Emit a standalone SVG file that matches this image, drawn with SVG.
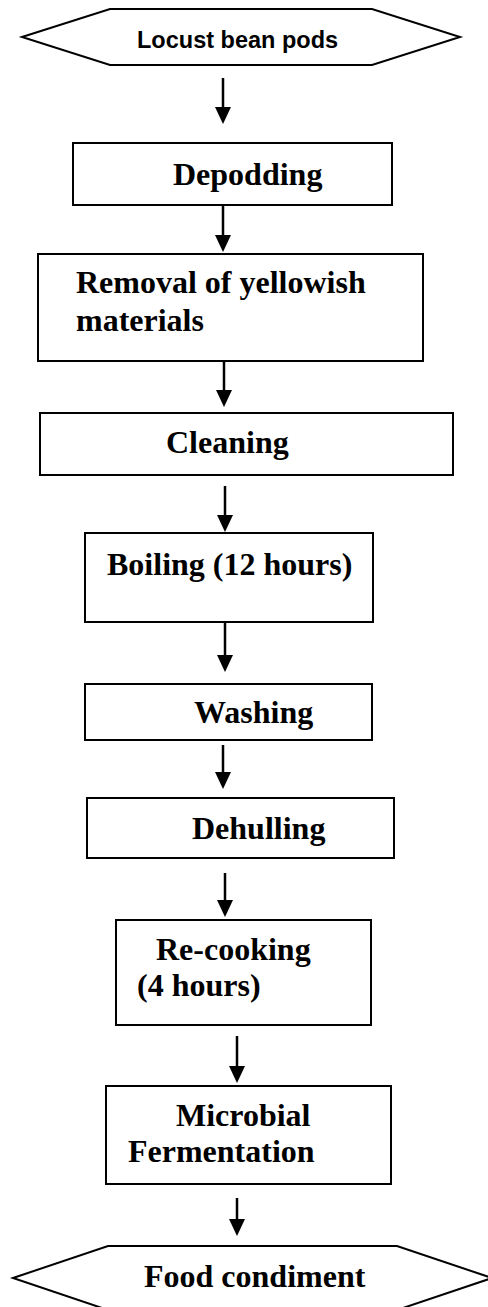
<svg xmlns="http://www.w3.org/2000/svg" width="488" height="1307" viewBox="0 0 488 1307">
<style>
.shape{fill:#fff;stroke:#000;stroke-width:2}
.t{font-family:"Liberation Serif","Times New Roman",serif;font-weight:bold;font-size:32px;fill:#000}
.s{font-family:"Liberation Sans",Arial,sans-serif;font-weight:bold;font-size:23.5px;fill:#000}
.c{stroke:#000;stroke-width:2.5;fill:none;marker-end:url(#ah)}
</style>
<defs>
<marker id="ah" markerUnits="userSpaceOnUse" markerWidth="17" markerHeight="16" refX="9" refY="8" orient="auto" viewBox="0 0 17 16">
<path d="M0,0 L17,8 L0,16 Z" fill="#000"/>
</marker>
</defs>
<rect width="488" height="1307" fill="#fff"/>
<g id="connectors">
<line class="c" x1="223" y1="78" x2="223" y2="116"/>
<line class="c" x1="223" y1="205" x2="223" y2="244"/>
<line class="c" x1="224" y1="361" x2="224" y2="399"/>
<line class="c" x1="225" y1="486" x2="225" y2="524"/>
<line class="c" x1="225" y1="622" x2="225" y2="664"/>
<line class="c" x1="223" y1="745" x2="223" y2="781"/>
<line class="c" x1="225" y1="873" x2="225" y2="909"/>
<line class="c" x1="237" y1="1036" x2="237" y2="1075"/>
<line class="c" x1="237" y1="1198" x2="237" y2="1228"/>
</g>
<g id="n1">
<polygon class="shape" points="22,37 110,9 372,9 460,37 372,65 110,65"/>
<text class="s" x="137" y="48">Locust bean pods</text>
</g>
<g id="n2">
<rect class="shape" x="73" y="143" width="319" height="62"/>
<text class="t" x="173" y="185">Depodding</text>
</g>
<g id="n3">
<rect class="shape" x="38" y="254" width="385" height="107"/>
<text class="t" x="76" y="293">Removal of yellowish</text>
<text class="t" x="76" y="331">materials</text>
</g>
<g id="n4">
<rect class="shape" x="40" y="413" width="413" height="62"/>
<text class="t" x="166" y="453">Cleaning</text>
</g>
<g id="n5">
<rect class="shape" x="85" y="533" width="288" height="89"/>
<text class="t" x="107" y="575">Boiling (12 hours)</text>
</g>
<g id="n6">
<rect class="shape" x="85" y="684" width="287" height="56"/>
<text class="t" x="194" y="723">Washing</text>
</g>
<g id="n7">
<rect class="shape" x="87" y="798" width="307" height="60"/>
<text class="t" x="192" y="839">Dehulling</text>
</g>
<g id="n8">
<rect class="shape" x="116" y="920" width="255" height="105"/>
<text class="t" x="156" y="960">Re-cooking</text>
<text class="t" x="137" y="996">(4 hours)</text>
</g>
<g id="n9">
<rect class="shape" x="106" y="1086" width="285" height="98"/>
<text class="t" x="176" y="1126">Microbial</text>
<text class="t" x="128" y="1162">Fermentation</text>
</g>
<g id="n10">
<polygon class="shape" points="13,1278 108,1246 397,1246 492,1278 397,1310 108,1310"/>
<text class="t" x="144" y="1287">Food condiment</text>
</g>
</svg>
